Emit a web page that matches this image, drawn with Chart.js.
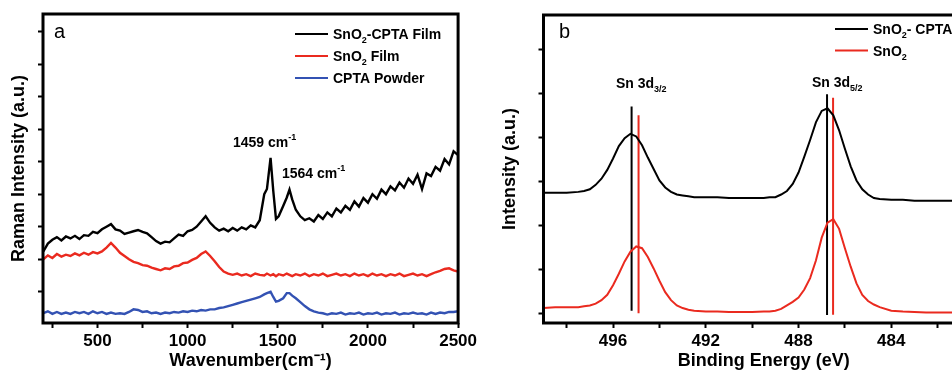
<!DOCTYPE html>
<html>
<head>
<meta charset="utf-8">
<script src="https://cdn.jsdelivr.net/npm/chart.js@4.4.1/dist/chart.umd.min.js"></script>
<style>
  html, body { margin: 0; padding: 0; background: #fff; overflow: hidden; }
  #stage { position: relative; width: 952px; height: 373px; overflow: hidden; }
  #raman-box { position: absolute; left: 0; top: 0; width: 480px; height: 373px; }
  #xps-box { position: absolute; left: 480px; top: 0; width: 530px; height: 373px; }
</style>
</head>
<body>
<div id="stage">
  <div id="raman-box"><canvas id="raman-chart" width="480" height="373"></canvas></div>
  <div id="xps-box"><canvas id="xps-chart" width="530" height="373"></canvas></div>
</div>
<script>
// panel a: Raman spectra (offset, arbitrary units)
const RAMAN_WAVENUMBER = [
  200, 225, 250, 275, 300, 325, 350, 375, 400, 425,
  450, 475, 500, 525, 550, 575, 600, 625, 650, 675,
  700, 725, 750, 775, 800, 825, 850, 875, 900, 925,
  950, 975, 1000, 1025, 1050, 1075, 1100, 1125, 1150, 1175,
  1200, 1225, 1250, 1275, 1300, 1325, 1350, 1375, 1400, 1425,
  1440, 1460, 1475, 1490, 1505, 1530, 1550, 1565, 1580, 1600,
  1625, 1650, 1675, 1700, 1725, 1750, 1775, 1800, 1825, 1850,
  1875, 1900, 1925, 1950, 1975, 2000, 2025, 2050, 2075, 2100,
  2125, 2150, 2175, 2200, 2225, 2250, 2275, 2300, 2325, 2350,
  2375, 2400, 2425, 2450, 2475, 2500,
];
const RAMAN_SNO2_CPTA = [
  0.62, 0.74, 0.80, 0.84, 0.79, 0.85, 0.82, 0.86, 0.81, 0.87,
  0.86, 0.92, 0.90, 0.96, 1.00, 1.04, 0.96, 0.94, 0.89, 0.91,
  0.93, 0.95, 0.92, 0.90, 0.84, 0.78, 0.74, 0.77, 0.76, 0.82,
  0.88, 0.86, 0.93, 0.95, 1.00, 1.08, 1.16, 1.06, 0.99, 0.94,
  0.97, 0.93, 0.98, 0.94, 0.99, 0.96, 1.02, 0.99, 1.10, 1.50,
  1.58, 2.06, 1.55, 1.12, 1.16, 1.32, 1.45, 1.57, 1.42, 1.26,
  1.16, 1.10, 1.13, 1.08, 1.18, 1.12, 1.22, 1.16, 1.28, 1.22,
  1.32, 1.26, 1.39, 1.31, 1.44, 1.37, 1.50, 1.43, 1.57, 1.50,
  1.62, 1.56, 1.68, 1.60, 1.74, 1.66, 1.80, 1.58, 1.82, 1.78,
  1.92, 1.86, 2.04, 1.96, 2.16, 2.10,
];
const RAMAN_SNO2 = [
  0.50, 0.56, 0.52, 0.58, 0.54, 0.57, 0.55, 0.59, 0.56, 0.60,
  0.57, 0.61, 0.59, 0.62, 0.68, 0.75, 0.68, 0.60, 0.55, 0.50,
  0.46, 0.44, 0.41, 0.40, 0.37, 0.35, 0.33, 0.36, 0.35, 0.39,
  0.40, 0.44, 0.45, 0.49, 0.52, 0.58, 0.62, 0.55, 0.47, 0.38,
  0.31, 0.28, 0.26, 0.28, 0.25, 0.27, 0.24, 0.28, 0.26, 0.25,
  0.28, 0.25, 0.27, 0.24, 0.27, 0.25, 0.28, 0.26, 0.24, 0.27,
  0.25, 0.28, 0.24, 0.27, 0.25, 0.28, 0.24, 0.26, 0.28, 0.25,
  0.27, 0.24, 0.28, 0.25, 0.27, 0.24, 0.28, 0.25, 0.27, 0.24,
  0.27, 0.25, 0.28, 0.24, 0.26, 0.28, 0.25, 0.27, 0.24, 0.27,
  0.30, 0.32, 0.35, 0.36, 0.33, 0.31,
];
const RAMAN_CPTA = [
  -0.33, -0.30, -0.34, -0.31, -0.34, -0.32, -0.34, -0.31, -0.33, -0.31,
  -0.34, -0.30, -0.33, -0.31, -0.34, -0.32, -0.34, -0.33, -0.34, -0.31,
  -0.27, -0.28, -0.31, -0.30, -0.33, -0.32, -0.34, -0.32, -0.33, -0.31,
  -0.32, -0.30, -0.31, -0.29, -0.30, -0.28, -0.29, -0.27, -0.27, -0.25,
  -0.24, -0.22, -0.20, -0.18, -0.16, -0.14, -0.12, -0.10, -0.08, -0.04,
  -0.02, 0.00, -0.08, -0.15, -0.14, -0.10, -0.02, -0.02, -0.06, -0.10,
  -0.16, -0.22, -0.27, -0.30, -0.32, -0.33, -0.35, -0.33, -0.34, -0.32,
  -0.35, -0.33, -0.34, -0.32, -0.35, -0.33, -0.34, -0.32, -0.35, -0.33,
  -0.34, -0.32, -0.35, -0.33, -0.34, -0.32, -0.34, -0.33, -0.35, -0.32,
  -0.34, -0.32, -0.33, -0.31, -0.31, -0.30,
];
const RAMAN_X_TICKS = [250, 500, 750, 1000, 1250, 1500, 1750, 2000, 2250, 2500];
const RAMAN_X_LABELED = [500, 1000, 1500, 2000, 2500];
const RAMAN_Y_TICKS = [0, 0.5, 1, 1.5, 2, 2.5, 3, 3.5, 4];
const RAMAN_NAMES = ['SnO_{2}-CPTA Film', 'SnO_{2} Film', 'CPTA Powder'];
const RAMAN_NOTES = ['1459 cm^{-1}', '1564 cm^{-1}'];

// panel b: Sn 3d XPS
const XPS_ENERGY = [
  499, 498.5, 498, 497.5, 497.25, 497, 496.75, 496.5, 496.25, 496,
  495.75, 495.5, 495.25, 495, 494.75, 494.5, 494.25, 494, 493.75, 493.5,
  493.25, 493, 492.75, 492.5, 492, 491.5, 491, 490.5, 490, 489.5,
  489.25, 489, 488.75, 488.5, 488.25, 488, 487.75, 487.5, 487.25, 487,
  486.75, 486.5, 486.25, 486, 485.75, 485.5, 485.25, 485, 484.75, 484.5,
  484, 483.5, 483, 482.5, 482, 481.5, 481, 480.5, 480,
];
const XPS_SNO2_CPTA = [
  1.37, 1.37, 1.37, 1.38, 1.39, 1.41, 1.46, 1.53, 1.63, 1.76,
  1.90, 1.99, 2.04, 2.01, 1.91, 1.77, 1.64, 1.51, 1.43, 1.38,
  1.35, 1.34, 1.33, 1.32, 1.32, 1.32, 1.31, 1.31, 1.31, 1.31,
  1.32, 1.32, 1.35, 1.39, 1.47, 1.60, 1.78, 1.97, 2.17, 2.30,
  2.33, 2.25, 2.08, 1.87, 1.67, 1.51, 1.41, 1.35, 1.31, 1.30,
  1.29, 1.29, 1.28, 1.28, 1.28, 1.28, 1.28, 1.28, 1.28,
];
const XPS_SNO2 = [
  0.06, 0.07, 0.07, 0.07, 0.08, 0.09, 0.11, 0.15, 0.21, 0.32,
  0.45, 0.59, 0.70, 0.76, 0.74, 0.64, 0.51, 0.37, 0.24, 0.15,
  0.09, 0.06, 0.04, 0.03, 0.02, 0.02, 0.015, 0.015, 0.015, 0.02,
  0.02, 0.03, 0.05, 0.09, 0.13, 0.18, 0.27, 0.40, 0.60, 0.86,
  1.03, 1.07, 0.96, 0.74, 0.53, 0.34, 0.21, 0.14, 0.10, 0.07,
  0.03, 0.02, 0.015, 0.01, 0.01, 0.01, 0.01, 0.01, 0.01,
];
// peak position markers (3d3/2, 3d5/2)
const XPS_MARK_ENERGY_CPTA = [495.20, 486.77];
const XPS_MARK_LOW_CPTA = [0.03, -0.02];
const XPS_MARK_HIGH_CPTA = [2.35, 2.49];
const XPS_MARK_ENERGY_SNO2 = [494.90, 486.51];
const XPS_MARK_LOW_SNO2 = [0.0, -0.015];
const XPS_MARK_HIGH_SNO2 = [2.25, 2.45];
const XPS_X_TICKS = [498, 496, 494, 492, 490, 488, 486, 484, 482];
const XPS_X_LABELED = [496, 492, 488, 484];
const XPS_Y_TICKS = [0, 0.5, 1, 1.5, 2, 2.5, 3];
const XPS_NAMES = ['SnO_{2}- CPTA Film', 'SnO_{2}'];
const XPS_NOTES = ['Sn 3d_{3/2}', 'Sn 3d_{5/2}'];

const FONT = "'Liberation Sans', Arial, Helvetica, sans-serif";
const BLACK = '#000000';
const RED = '#ea2a1f';
const BLUE = '#3352b3';

Chart.defaults.font.family = FONT;
Chart.defaults.color = '#000';

// split "SnO_{2}" / "cm^{-1}" into normal, sub and sup runs
function parseRich(text) {
  const runs = [];
  const re = /([_^])\{([^}]*)\}/g;
  let last = 0;
  let m;
  while ((m = re.exec(text))) {
    if (m.index > last) runs.push({ t: text.slice(last, m.index), kind: 'n' });
    runs.push({ t: m[2], kind: m[1] === '_' ? 'sub' : 'sup' });
    last = re.lastIndex;
  }
  if (last < text.length) runs.push({ t: text.slice(last), kind: 'n' });
  return runs;
}

function drawRich(ctx, text, x, y, size) {
  let cx = x;
  ctx.textAlign = 'left';
  ctx.textBaseline = 'alphabetic';
  parseRich(text).forEach((r) => {
    const s = r.kind === 'n' ? size : Math.round(size * 0.66);
    let dy = 0;
    if (r.kind === 'sub') dy = size * 0.3;
    if (r.kind === 'sup') dy = -size * 0.48;
    ctx.font = `bold ${s}px ${FONT}`;
    ctx.fillText(r.t, cx, y + dy);
    cx += ctx.measureText(r.t).width;
  });
}

function plainName(text) {
  return text.replace(/[_^]\{([^}]*)\}/g, '$1');
}

function lineSeries(name, xs, ys, color, width) {
  return {
    label: name,
    data: xs.map((x, i) => ({ x, y: ys[i] })),
    borderColor: color,
    backgroundColor: color,
    borderWidth: width,
    pointRadius: 0,
    tension: 0,
    inLegend: true,
  };
}

function markerSeries(energies, lows, highs, idx, color) {
  return {
    label: 'marker',
    data: [{ x: energies[idx], y: lows[idx] }, { x: energies[idx], y: highs[idx] }],
    borderColor: color,
    borderWidth: 2,
    pointRadius: 0,
    inLegend: false,
  };
}

function tickGrid() {
  return { drawOnChartArea: false, drawTicks: true, tickLength: 5, tickWidth: 2, tickColor: '#000' };
}

// frame, panel letter, peak notes and the in-plot legend
function panelDecor(cfg) {
  return {
    id: 'panelDecor',
    afterDatasetsDraw(chart) {
      const { ctx, chartArea: a } = chart;
      ctx.save();
      ctx.strokeStyle = '#000';
      ctx.lineWidth = 3;
      ctx.strokeRect(a.left, a.top, a.right - a.left, a.bottom - a.top);

      ctx.fillStyle = '#000';
      ctx.font = `normal 20px ${FONT}`;
      ctx.textAlign = 'left';
      ctx.textBaseline = 'alphabetic';
      ctx.fillText(cfg.letter, cfg.letterAt[0], cfg.letterAt[1]);

      cfg.notes.forEach((n, i) => drawRich(ctx, n, cfg.noteAt[i][0], cfg.noteAt[i][1], 14));

      const items = chart.data.datasets.filter((d) => d.inLegend);
      items.forEach((d, i) => {
        const y = cfg.legendRows[i];
        ctx.strokeStyle = d.borderColor;
        ctx.lineWidth = 2;
        ctx.beginPath();
        ctx.moveTo(cfg.legendLine[0], y);
        ctx.lineTo(cfg.legendLine[1], y);
        ctx.stroke();
        ctx.fillStyle = '#000';
        drawRich(ctx, cfg.names[i], cfg.legendLine[1] + 5, y + 5, 14);
      });
      ctx.restore();
    },
  };
}

function baseOptions(o) {
  return {
    responsive: false,
    animation: false,
    devicePixelRatio: 1,
    layout: { padding: o.padding },
    plugins: { legend: { display: false }, tooltip: { enabled: false } },
    scales: {
      x: {
        type: 'linear',
        min: o.xMin,
        max: o.xMax,
        reverse: !!o.reverse,
        afterFit(s) { s.height = 50; },
        afterBuildTicks(s) { s.ticks = o.xTicks.map((v) => ({ value: v })); },
        grid: tickGrid(),
        border: { display: false },
        ticks: {
          autoSkip: false,
          maxRotation: 0,
          padding: 3,
          font: { size: 17, weight: 'bold' },
          callback: (v) => (o.xLabeled.includes(v) ? String(v) : ''),
        },
        title: {
          display: true,
          text: o.xTitle,
          font: { size: 18, weight: 'bold', lineHeight: 1.2 },
          padding: { top: 0, bottom: 1 },
        },
      },
      y: {
        type: 'linear',
        min: o.yMin,
        max: o.yMax,
        afterFit(s) { s.width = o.yWidth; },
        afterBuildTicks(s) { s.ticks = o.yTicks.map((v) => ({ value: v })); },
        grid: tickGrid(),
        border: { display: false },
        ticks: { display: false },
        title: {
          display: true,
          text: o.yTitle,
          font: { size: 18, weight: 'bold', lineHeight: 1.2 },
          padding: { top: o.yTitlePad, bottom: 0 },
        },
      },
    },
  };
}

new Chart(document.getElementById('raman-chart'), {
  type: 'line',
  data: {
    datasets: [
      lineSeries(plainName(RAMAN_NAMES[0]), RAMAN_WAVENUMBER, RAMAN_SNO2_CPTA, BLACK, 2.4),
      lineSeries(plainName(RAMAN_NAMES[1]), RAMAN_WAVENUMBER, RAMAN_SNO2, RED, 2.4),
      lineSeries(plainName(RAMAN_NAMES[2]), RAMAN_WAVENUMBER, RAMAN_CPTA, BLUE, 2.4),
    ],
  },
  options: baseOptions({
    padding: { left: 0, top: 14, right: 20, bottom: 0 },
    xMin: 198, xMax: 2500, xTicks: RAMAN_X_TICKS, xLabeled: RAMAN_X_LABELED,
    xTitle: 'Wavenumber(cm\u207B\u00B9)',
    yMin: -0.48, yMax: 4.27, yTicks: RAMAN_Y_TICKS, yWidth: 43, yTitlePad: 8,
    yTitle: 'Raman Intensity (a.u.)',
  }),
  plugins: [panelDecor({
    letter: 'a', letterAt: [54, 38],
    notes: RAMAN_NOTES, noteAt: [[233, 146.5], [282, 178]],
    names: RAMAN_NAMES, legendLine: [295, 328], legendRows: [34, 56, 78],
  })],
});

new Chart(document.getElementById('xps-chart'), {
  type: 'line',
  data: {
    datasets: [
      lineSeries(plainName(XPS_NAMES[0]), XPS_ENERGY, XPS_SNO2_CPTA, BLACK, 2),
      lineSeries(plainName(XPS_NAMES[1]), XPS_ENERGY, XPS_SNO2, RED, 2),
      markerSeries(XPS_MARK_ENERGY_CPTA, XPS_MARK_LOW_CPTA, XPS_MARK_HIGH_CPTA, 0, BLACK),
      markerSeries(XPS_MARK_ENERGY_SNO2, XPS_MARK_LOW_SNO2, XPS_MARK_HIGH_SNO2, 0, RED),
      markerSeries(XPS_MARK_ENERGY_CPTA, XPS_MARK_LOW_CPTA, XPS_MARK_HIGH_CPTA, 1, BLACK),
      markerSeries(XPS_MARK_ENERGY_SNO2, XPS_MARK_LOW_SNO2, XPS_MARK_HIGH_SNO2, 1, RED),
    ],
  },
  options: baseOptions({
    padding: { left: 0, top: 15, right: 26, bottom: 0 },
    xMin: 480, xMax: 499, reverse: true, xTicks: XPS_X_TICKS, xLabeled: XPS_X_LABELED,
    xTitle: 'Binding Energy (eV)',
    yMin: -0.11, yMax: 3.39, yTicks: XPS_Y_TICKS, yWidth: 63.5, yTitlePad: 19,
    yTitle: 'Intensity (a.u.)',
  }),
  plugins: [panelDecor({
    letter: 'b', letterAt: [79, 38],
    notes: XPS_NOTES, noteAt: [[136, 88], [332, 86.5]],
    names: XPS_NAMES, legendLine: [355, 388], legendRows: [29, 50.5],
  })],
});
</script>
</body>
</html>
